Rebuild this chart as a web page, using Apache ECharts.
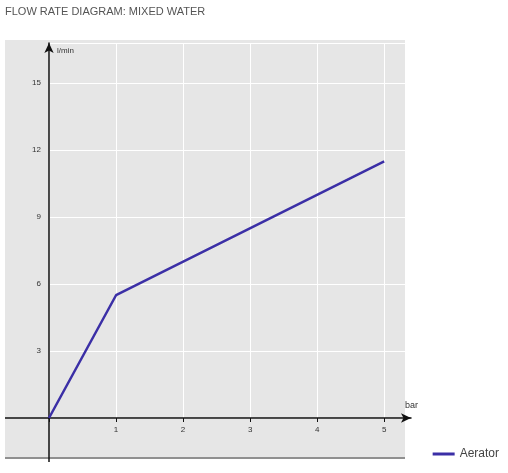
<!DOCTYPE html><html><head><meta charset="utf-8">
<script src="https://cdn.jsdelivr.net/npm/echarts@6/dist/echarts.min.js"></script>
<style>html,body{margin:0;padding:0;background:#fff}#c{width:508px;height:473px}</style></head><body><div id="c"></div>
<script>
const seriesName='Aerator';
const xValues=[0,1,5];
const yValues=[0,5.5,11.5];
const chart=echarts.init(document.getElementById('c'));
chart.setOption({
 animation:false,
 title:{text:'FLOW RATE DIAGRAM: MIXED WATER',left:0,top:1,textStyle:{fontSize:11,fontWeight:'normal',color:'#555',fontFamily:'Liberation Sans Narrow, Arial'}},
 graphic:[
  {type:'rect',z:-10,shape:{x:5,y:40,width:400,height:417},style:{fill:'#e6e6e6'}},
  {type:'line',shape:{x1:5,y1:458,x2:405,y2:458},style:{stroke:'#222',lineWidth:1.2}},
  {type:'line',shape:{x1:5,y1:418,x2:49,y2:418},style:{stroke:'#111',lineWidth:1.5}},
  {type:'line',shape:{x1:49,y1:418,x2:49,y2:462},style:{stroke:'#111',lineWidth:1.5}}
 ],
 legend:{right:4,bottom:8,itemWidth:22,itemHeight:3,icon:'rect',textStyle:{fontSize:12,color:'#444'},data:[seriesName]},
 grid:{left:49,right:97,top:43,bottom:55},
 xAxis:{type:'value',min:0,max:5.4,interval:1,name:'bar',nameLocation:'end',nameGap:-6,
  nameTextStyle:{fontSize:9,color:'#333',verticalAlign:'bottom',padding:[0,0,8,0]},
  axisLine:{lineStyle:{color:'#111',width:1.5},symbol:['none','arrow'],symbolSize:[7,10]},
  axisTick:{show:true,lineStyle:{color:'#111'},length:4},
  axisLabel:{fontSize:8,color:'#333',showMaxLabel:false,formatter:v=>v===0?'':v},
  splitLine:{lineStyle:{color:'#fff',width:1}}},
 yAxis:{type:'value',min:0,max:16.8,interval:3,name:'l/min',nameLocation:'end',nameGap:-12,
  nameTextStyle:{fontSize:8,color:'#333',align:'left',padding:[0,0,0,8]},
  axisLine:{lineStyle:{color:'#111',width:1.5},symbol:['none','arrow'],symbolSize:[7,10]},
  axisTick:{show:false},
  axisLabel:{fontSize:8,color:'#333',margin:8,showMaxLabel:false,formatter:v=>v===0?'':v},
  splitLine:{lineStyle:{color:'#fff',width:1}}},
 series:[{name:seriesName,type:'line',data:xValues.map((x,i)=>[x,yValues[i]]),showSymbol:false,
  lineStyle:{color:'#3b2fa6',width:2.5},itemStyle:{color:'#3b2fa6'}}]
});
</script></body></html>
